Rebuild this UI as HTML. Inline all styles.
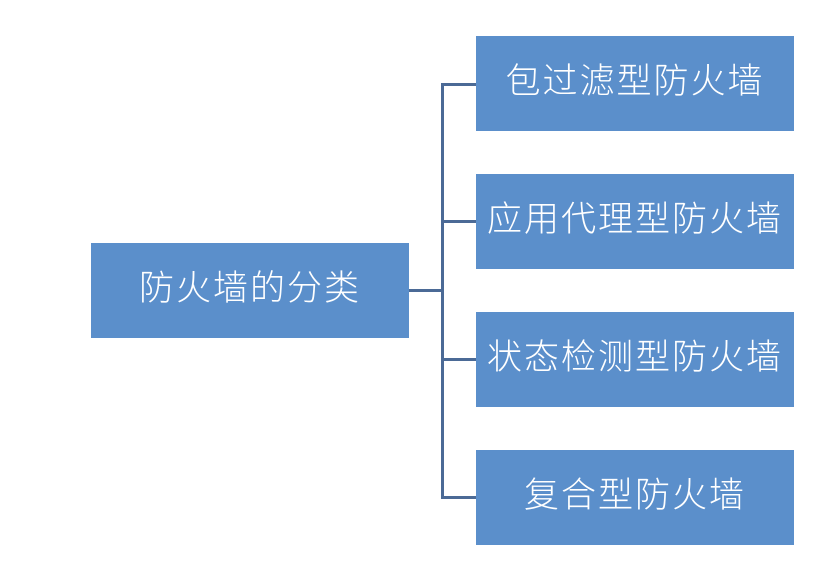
<!DOCTYPE html>
<html><head><meta charset="utf-8"><style>
body{margin:0;width:837px;height:561px;background:#fff;position:relative;overflow:hidden;font-family:"Liberation Sans","Noto Sans CJK SC",sans-serif}
.b{position:absolute;background:#5b8fcb;color:#fff;font-size:35px;font-weight:300;display:flex;align-items:center;justify-content:center;width:318px;height:95px;letter-spacing:2px;line-height:1;padding-bottom:4px;box-sizing:border-box}
.l{position:absolute;background:#4b6a96}
</style></head><body>
<div class="b" style="left:91px;top:243px">防火墙的分类</div>
<div class="b" style="left:476px;top:36px">包过滤型防火墙</div>
<div class="b" style="left:476px;top:174px">应用代理型防火墙</div>
<div class="b" style="left:476px;top:312px">状态检测型防火墙</div>
<div class="b" style="left:476px;top:450px">复合型防火墙</div>
<div class="l" style="left:409px;top:289px;width:34px;height:3px"></div>
<div class="l" style="left:441px;top:83px;width:3px;height:416px"></div>
<div class="l" style="left:441px;top:83px;width:35px;height:3px"></div>
<div class="l" style="left:441px;top:220px;width:35px;height:3px"></div>
<div class="l" style="left:441px;top:358px;width:35px;height:3px"></div>
<div class="l" style="left:441px;top:496px;width:35px;height:3px"></div>
</body></html>
